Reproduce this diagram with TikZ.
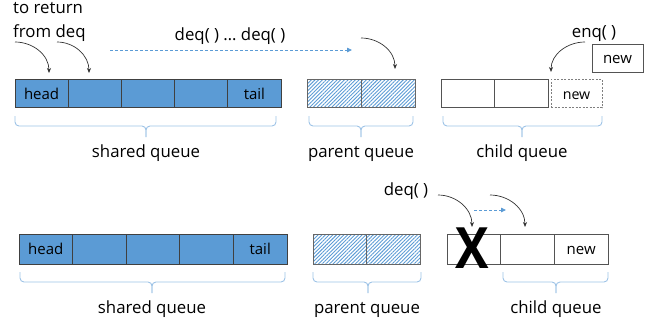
\documentclass[tikz,border=0pt]{standalone}
\usepackage{fontspec}
\setmainfont{Open Sans}
\usetikzlibrary{arrows.meta,patterns.meta}
\definecolor{qblue}{HTML}{5B9BD5}
\definecolor{qbrace}{HTML}{9DC3E6}
\definecolor{qedge}{HTML}{404040}
\definecolor{qgray}{HTML}{7F7F7F}
\newcommand\mybrace[6]{%
  \draw[bracestyle] (#1,-#4) -- (#1,-#5) -- (#3,-#5) -- (#3,-#6);
  \draw[bracestyle] (#2,-#4) -- (#2,-#5) -- (#3,-#5) -- (#3,-#6);}
\begin{document}
\begin{tikzpicture}[x=1pt,y=1pt,
  cell/.style={draw=qedge,line width=0.9pt,inner sep=0pt,outer sep=0pt,
    minimum height=28.5pt,minimum width=53.3pt,text height=11pt,text depth=0pt,
    font=\fontsize{15}{15}\selectfont},
  shared/.style={cell,fill=qblue},
  parent/.style={cell,draw=qgray!80!black,pattern={Lines[angle=45,distance=2.6pt,line width=0.9pt]},pattern color=qblue},
  child/.style={cell,draw=qedge!90},
  label/.style={anchor=base,inner sep=0pt,font=\fontsize{16.8}{20}\selectfont},
  bracestyle/.style={draw=qbrace,line width=0.9pt,rounded corners=4pt},
  curvearrow/.style={draw=black!80,line width=0.7pt,-{Stealth[length=5pt,width=4pt]}},
  bluearrow/.style={draw=qblue,line width=0.8pt,dashed,dash pattern=on 3pt off 2pt,-{Triangle[length=5pt,width=4.5pt]}}
]
\useasboundingbox (0,0) rectangle (655,-325);

% ---------- top row ----------
\node[label,anchor=base west] (tr1) at (13,-13) {to return};
\node[label,anchor=base west] (tr2) at (13,-37) {from deq};
\node[label] (deqs) at (230,-40) {deq( ) … deq( )};
\node[label] (enq) at (594,-37) {enq( )};

\node[shared] (s1) at (41.6,-93.5) {head};
\node[shared] (s2) at (94.8,-93.5) {};
\node[shared] (s3) at (148,-93.5) {};
\node[shared] (s4) at (201.2,-93.5) {};
\node[shared] (s5) at (254.4,-93.5) {tail};

\node[parent,minimum width=54pt] (p1) at (334,-93.5) {};
\node[parent,minimum width=54pt] (p2) at (388,-93.5) {};

\node[child,minimum width=53.5pt] (c1) at (467.75,-93.5) {};
\node[child,minimum width=53.5pt] (c2) at (521.25,-93.5) {};
\node[cell,draw=qgray,dashed,dash pattern=on 2pt off 1.5pt,line width=0.8pt,minimum width=51pt,font=\fontsize{14.2}{14}\selectfont] (cn) at (576.5,-93.5) {new};

\node[cell,draw=qedge!90,line width=1pt,minimum width=51pt,minimum height=28pt] (nw) at (617.5,-58) {new};

\mybrace{15}{276}{146}{116}{126}{137}
\mybrace{309}{413}{361}{116}{126}{137}
\mybrace{443}{602}{522}{116}{126}{137}
\node[label] (sq1) at (146,-157) {shared queue};
\node[label] (pq1) at (361,-157) {parent queue};
\node[label] (cq1) at (522,-157) {child queue};

\coordinate (a1s) at (15,-42);  \coordinate (a1e) at (49,-73);
\coordinate (a2s) at (57,-42);  \coordinate (a2e) at (89,-73);
\coordinate (a3s) at (361,-38); \coordinate (a3e) at (395,-69);
\coordinate (a4s) at (585,-42); \coordinate (a4e) at (551,-72);
\draw[curvearrow] (a1s) to[out=0,in=90] (a1e);
\draw[curvearrow] (a2s) to[out=0,in=90] (a2e);
\draw[curvearrow] (a3s) to[out=0,in=90] (a3e);
\draw[curvearrow] (a4s) to[out=180,in=90] (a4e);
\coordinate (b1s) at (110,-50); \coordinate (b1e) at (352,-50);
\draw[bluearrow] (b1s) -- (b1e);

% ---------- bottom row ----------
\node[shared,minimum width=53.6pt,minimum height=30pt] (t1) at (45.8,-249) {head};
\node[shared,minimum width=53.6pt,minimum height=30pt] (t2) at (99.4,-249) {};
\node[shared,minimum width=53.6pt,minimum height=30pt] (t3) at (153,-249) {};
\node[shared,minimum width=53.6pt,minimum height=30pt] (t4) at (206.6,-249) {};
\node[shared,minimum width=53.6pt,minimum height=30pt] (t5) at (260.2,-249) {tail};

\node[parent,minimum width=53.5pt,minimum height=30pt] (q1) at (339.75,-249) {};
\node[parent,minimum width=53.5pt,minimum height=30pt] (q2) at (393.25,-249) {};

\node[child,minimum width=53.7pt,minimum height=30pt] (d1) at (473.8,-249) {};
\node[child,minimum width=53.7pt,minimum height=30pt] (d2) at (527.5,-249) {};
\node[child,minimum width=53.7pt,minimum height=30pt] (d3) at (581.2,-249) {new};

\node[inner sep=0pt,xscale=0.88,font=\fontsize{57}{57}\selectfont\bfseries] (xx) at (472,-248) {X};

\node[label] (deq2) at (406,-195) {deq( )};

\mybrace{20}{285}{152}{272}{282}{293}
\mybrace{313}{421}{368}{272}{282}{293}
\mybrace{503}{608}{556}{272}{282}{293}
\node[label] (sq2) at (152,-313) {shared queue};
\node[label] (pq2) at (367,-313) {parent queue};
\node[label] (cq2) at (556,-313) {child queue};

\coordinate (a5s) at (438,-195); \coordinate (a5e) at (472,-227);
\coordinate (a6s) at (490,-195); \coordinate (a6e) at (525,-227);
\draw[curvearrow] (a5s) to[out=0,in=90] (a5e);
\draw[curvearrow] (a6s) to[out=0,in=90] (a6e);
\coordinate (b2s) at (474,-210); \coordinate (b2e) at (506,-210);
\draw[bluearrow] (b2s) -- (b2e);
\end{tikzpicture}
\end{document}
